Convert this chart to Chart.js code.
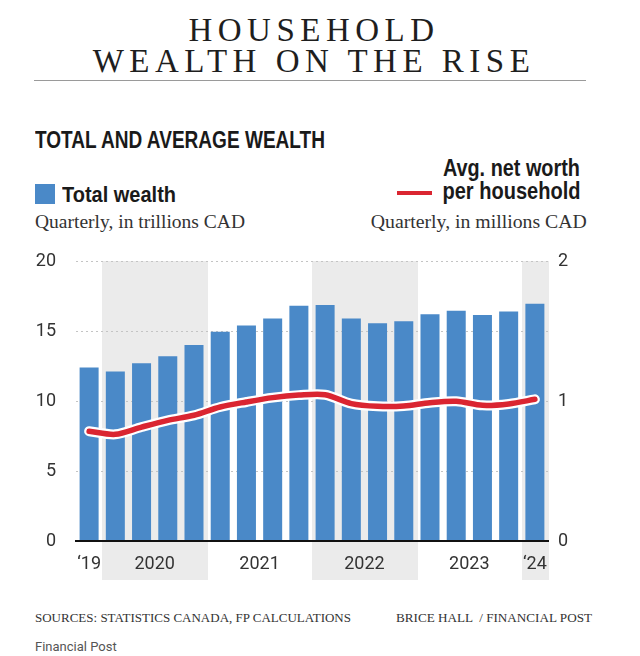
<!DOCTYPE html>
<html>
<head>
<meta charset="utf-8">
<script src="https://cdn.jsdelivr.net/npm/chart.js@4.4.1/dist/chart.umd.min.js"></script>
<style>
html,body{margin:0;padding:0;background:#fff;}
#page{position:relative;width:640px;height:656px;overflow:hidden;background:#fff;}
.abs{position:absolute;white-space:nowrap;}
.title{left:0;width:628px;text-align:center;top:15px;font-family:"Liberation Serif","Times New Roman",serif;font-size:33px;line-height:31px;letter-spacing:5.5px;color:#1e1e1e;}
.rule{left:34px;top:80px;width:552px;height:1px;background:#9a9a9a;}
.cond{font-family:"Liberation Sans",Arial,sans-serif;font-weight:bold;color:#1a1a1a;}
.sub{font-family:"Liberation Serif","Times New Roman",serif;font-size:19px;line-height:19px;color:#333;}
.foot{font-family:"Liberation Serif","Times New Roman",serif;font-size:12.5px;line-height:12.5px;color:#333;}
#chartWrap{position:absolute;left:0;top:240px;width:640px;height:350px;}
</style>
</head>
<body>
<div id="page">
  <div class="abs title">HOUSEHOLD<br>WEALTH ON THE RISE</div>
  <div class="abs rule"></div>

  <div class="abs cond fit" data-w="290" style="left:35px;top:129px;font-size:23px;line-height:23px;">TOTAL AND AVERAGE WEALTH</div>

  <div class="abs" style="left:35px;top:184px;width:20px;height:20px;background:#4a89c8;"></div>
  <div class="abs cond fit" data-w="114" style="left:62px;top:184px;font-size:22px;line-height:22px;">Total wealth</div>
  <div class="abs sub fit" data-w="210" style="left:35px;top:212px;">Quarterly, in trillions CAD</div>

  <div class="abs cond fit" data-w="137" data-right="1" style="right:60px;top:157px;font-size:23px;line-height:23px;">Avg. net worth</div>
  <div class="abs cond fit" data-w="138" data-right="1" style="right:60px;top:180px;font-size:23px;line-height:23px;">per household</div>
  <div class="abs" style="left:397px;top:191px;width:35px;height:4px;background:#da2531;"></div>
  <div class="abs sub fit" data-w="216" data-right="1" style="right:53px;top:212px;">Quarterly, in millions CAD</div>

  <div id="chartWrap"><canvas id="c" width="640" height="350"></canvas></div>

  <div class="abs foot fit" data-w="316" style="left:35px;top:612px;">SOURCES: STATISTICS CANADA, FP CALCULATIONS</div>
  <div class="abs foot fit" data-w="196" style="left:396px;top:612px;">BRICE HALL &nbsp;/ FINANCIAL POST</div>
  <div class="abs" style="left:35px;top:640px;font-family:Roboto,'Liberation Sans',sans-serif;font-size:13px;line-height:13px;color:#555;">Financial Post</div>
</div>

<script>
// ---- data ----
const quarters = ['2019 Q4','2020 Q1','2020 Q2','2020 Q3','2020 Q4','2021 Q1','2021 Q2','2021 Q3','2021 Q4',
                  '2022 Q1','2022 Q2','2022 Q3','2022 Q4','2023 Q1','2023 Q2','2023 Q3','2023 Q4','2024 Q1'];
const totalWealth = [12.4, 12.1, 12.7, 13.2, 14.0, 14.95, 15.4, 15.9, 16.8, 16.85, 15.9, 15.55, 15.7, 16.2, 16.45, 16.15, 16.4, 16.95];
const avgNetWorth = [0.784, 0.762, 0.814, 0.862, 0.898, 0.957, 0.993, 1.024, 1.042, 1.045, 0.981, 0.962, 0.964, 0.988, 0.998, 0.969, 0.979, 1.012];
const leftTicks = [0, 5, 10, 15, 20];
const rightTicks = [0, 1, 2];
const yearTickValues = [0, 2.5, 6.5, 10.5, 14.5, 17];
const yearTickLabels = ['\u201819', '2020', '2021', '2022', '2023', '\u201824'];
const shadedYears = ['2020', '2022', '2024'];

const BAR = '#4a89c8';
const RED = '#da2531';
const tickFont = {family: "Roboto, 'Liberation Sans', sans-serif", size: 18};

function fitTexts() {
  document.querySelectorAll('.fit').forEach(el => {
    el.style.transform = 'none';
    const w = el.getBoundingClientRect().width;
    const target = parseFloat(el.dataset.w);
    if (w > 0) {
      el.style.transformOrigin = el.dataset.right ? 'right center' : 'left center';
      el.style.transform = 'scaleX(' + (target / w) + ')';
    }
  });
}
fitTexts();
if (document.fonts && document.fonts.ready) document.fonts.ready.then(fitTexts);

const bandPlugin = {
  id: 'yearBands',
  beforeDraw(chart) {
    const {ctx, chartArea, scales} = chart;
    const x = scales.x;
    const half = (x.getPixelForValue(1) - x.getPixelForValue(0)) / 2;
    ctx.save();
    ctx.fillStyle = '#ebebeb';
    quarters.forEach((q, i) => {
      if (!shadedYears.includes(q.slice(0, 4))) return;
      const c = x.getPixelForValue(i);
      const left = Math.round(c - half), right = Math.round(c + half);
      ctx.fillRect(left, chartArea.top, right - left + 1, chartArea.bottom + 39 - chartArea.top);
    });
    ctx.restore();
  }
};

new Chart(document.getElementById('c'), {
  data: {
    labels: quarters,
    datasets: [
      {type: 'line', label: 'Avg. net worth per household', data: avgNetWorth, yAxisID: 'y1', xAxisID: 'x',
       borderColor: RED, borderWidth: 5.5, pointRadius: 0, tension: 0.3, borderCapStyle: 'round', borderJoinStyle: 'round', order: 0},
      {type: 'line', label: 'outline', data: avgNetWorth, yAxisID: 'y1', xAxisID: 'x',
       borderColor: '#ffffff', borderWidth: 10, pointRadius: 0, tension: 0.3, borderCapStyle: 'round', borderJoinStyle: 'round', order: 1},
      {type: 'bar', label: 'Total wealth', data: totalWealth, yAxisID: 'y', xAxisID: 'x',
       backgroundColor: BAR, barPercentage: 0.725, categoryPercentage: 1, order: 2}
    ]
  },
  options: {
    responsive: false,
    animation: false,
    devicePixelRatio: 1,
    layout: {padding: {top: 21, left: 0, right: 0, bottom: 0}},
    plugins: {legend: {display: false}, tooltip: {enabled: false}},
    scales: {
      x: {type: 'category', display: false, offset: true},
      x2: {
        type: 'linear', position: 'bottom', min: -0.5, max: 17.5,
        afterBuildTicks(s) { s.ticks = yearTickValues.map(v => ({value: v})); },
        afterFit(s) { s.height = 49; s.paddingLeft = 0; s.paddingRight = 0; },
        ticks: {autoSkip: false, maxRotation: 0, padding: 13, color: '#333', font: tickFont,
                callback: (v, i) => yearTickLabels[i]},
        grid: {display: false, drawTicks: false},
        border: {display: true, color: '#111', width: 2, z: 1}
      },
      y: {
        position: 'left', min: 0, max: 20,
        afterBuildTicks(s) { s.ticks = leftTicks.map(v => ({value: v})); },
        afterFit(s) { s.width = 76; s.paddingTop = 0; s.paddingBottom = 0; },
        ticks: {padding: 20, color: '#333', font: tickFont},
        grid: {color: '#c4c4c4', lineWidth: 1, drawTicks: false},
        border: {display: false, dash: [2, 3]}
      },
      y1: {
        position: 'right', min: 0, max: 2,
        afterBuildTicks(s) { s.ticks = rightTicks.map(v => ({value: v})); },
        afterFit(s) { s.width = 92; s.paddingTop = 0; s.paddingBottom = 0; },
        ticks: {padding: 10, color: '#333', font: tickFont},
        grid: {display: false, drawTicks: false},
        border: {display: false}
      }
    }
  },
  plugins: [bandPlugin]
});
</script>
</body>
</html>
